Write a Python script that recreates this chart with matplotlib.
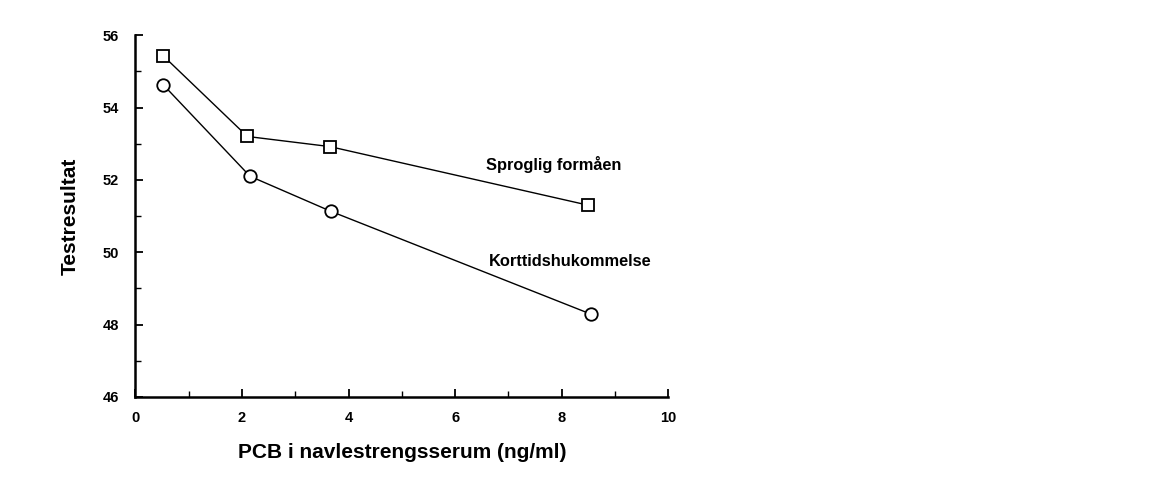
import matplotlib

matplotlib.use("Agg")
import matplotlib.pyplot as plt
from matplotlib.ticker import MultipleLocator

plt.rcParams["font.family"] = ["Liberation Sans", "DejaVu Sans"]
plt.rcParams["font.weight"] = "bold"

pcb_sprog = [0.52, 2.1, 3.65, 8.5]
sprog = [55.43, 53.2, 52.92, 51.3]
pcb_kort = [0.52, 2.15, 3.67, 8.55]
kort = [54.63, 52.1, 51.13, 48.29]

fig = plt.figure(figsize=(11.65, 4.95), dpi=100)
ax = fig.add_axes([0.1163, 0.198, 0.4572, 0.731])

ax.plot(pcb_sprog, sprog, "-", color="black", lw=1.0, marker="s", ms=9,
        mfc="white", mec="black", mew=1.3)
ax.plot(pcb_kort, kort, "-", color="black", lw=1.0, marker="o", ms=9,
        mfc="white", mec="black", mew=1.3)

ax.text(6.58, 52.27, "Sproglig formåen", fontsize=11.8, fontweight="bold")
ax.text(6.63, 49.62, "Korttidshukommelse", fontsize=11.8, fontweight="bold")

ax.set_xlim(0, 10)
ax.set_ylim(46, 56)
ax.xaxis.set_major_locator(MultipleLocator(2))
ax.xaxis.set_minor_locator(MultipleLocator(1))
ax.yaxis.set_major_locator(MultipleLocator(2))
ax.yaxis.set_minor_locator(MultipleLocator(1))
ax.tick_params(axis="both", which="major", direction="in", length=6, width=1.3,
               labelsize=10.5)
ax.tick_params(axis="both", which="minor", direction="in", length=4, width=1.0)
ax.tick_params(axis="x", which="major", pad=10)
ax.tick_params(axis="y", which="major", pad=12)

for s in ("top", "right"):
    ax.spines[s].set_visible(False)
for s in ("left", "bottom"):
    ax.spines[s].set_linewidth(1.8)

ax.set_xlabel("PCB i navlestrengsserum (ng/ml)", fontsize=15, fontweight="bold",
              labelpad=13)
ax.set_ylabel("Testresultat", fontsize=15, fontweight="bold", labelpad=16)

fig.savefig("out.png", dpi=100)
